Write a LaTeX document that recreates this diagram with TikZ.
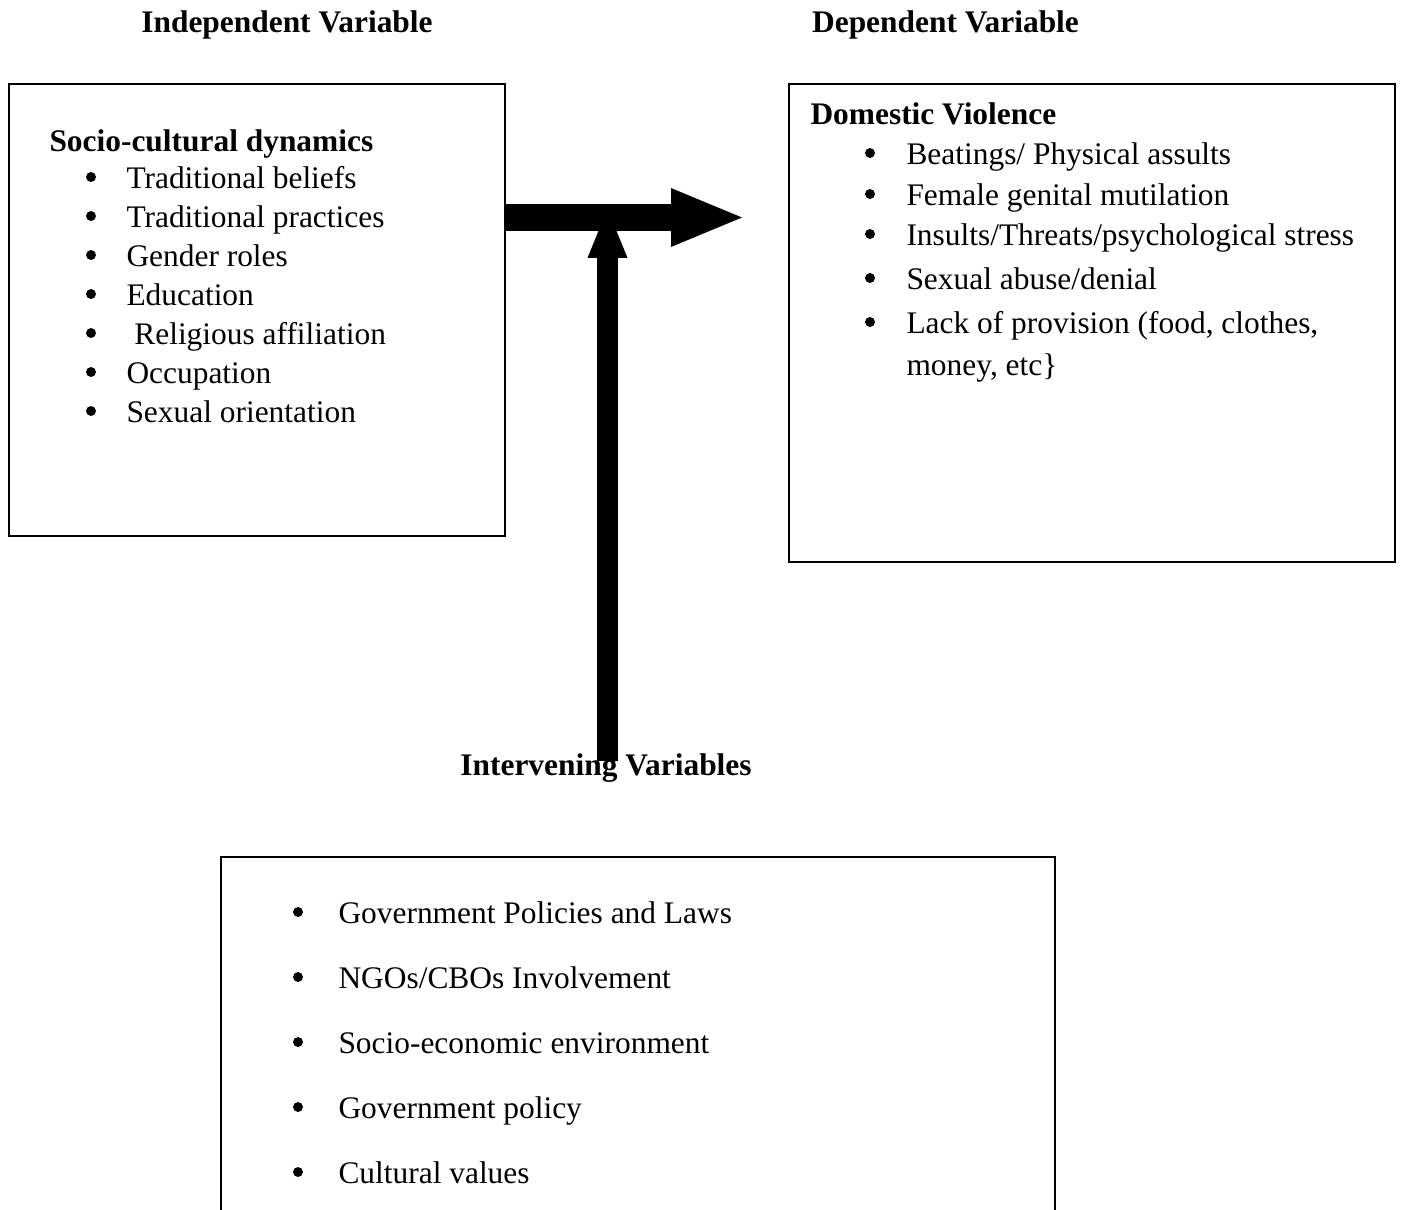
\documentclass[tikz,border=0pt]{standalone}
\usepackage{fontspec}
\setmainfont{Liberation Serif}
\usepackage{tikz}
\usetikzlibrary{arrows.meta, positioning, fit}

\begin{document}
\begin{tikzpicture}[
        x=0.382pt, y=-0.382pt,
        panel/.style={draw, line width=0.6pt, inner sep=0pt},
        heading/.style={font=\fontsize{12}{14}\selectfont\bfseries, inner sep=0pt},
        entry/.style={font=\fontsize{12}{14}\selectfont, inner sep=0pt, anchor=base west},
        bulletmark/.style={circle, fill=black, inner sep=0pt, minimum size=3.8pt},
        fatarrow/.style={line width=10.3pt, -{Triangle[length=27.1pt, width=22.5pt, line width=0pt]}},
        slimarrow/.style={line width=8pt, -{Triangle[length=18.7pt, width=15.3pt, line width=0pt]}},
    ]
        \useasboundingbox (0,0) rectangle (1401,1209);
        \clip (0,0) rectangle (1401,1209);

        % column headings
        \node[heading, anchor=base] (ivhead) at (287,32) {Independent Variable};
        \node[heading, anchor=base] (dvhead) at (945.5,32) {Dependent Variable};

        % independent variable
        \node[panel, fit={(9,84) (505,536)}] (socio) {};
        \node[heading, anchor=base west] (sociotitle) at (49,151) {Socio-cultural dynamics};
        \foreach \t [count=\i] in {Traditional beliefs, Traditional practices, Gender roles,
            Education, {\ Religious affiliation}, Occupation, Sexual orientation} {
            \node[bulletmark] (socio-b\i) at (91, 177+39*\i-39) {};
            \node[entry] (socio-\i) at (126, 188+39*\i-39) {\t};
        }

        % dependent variable
        \node[panel, fit={(789,84) (1395,562)}] (dv) {};
        \node[heading, anchor=base west] (dvtitle) at (810,124) {Domestic Violence};
        \foreach \y/\t [count=\i] in {164/{Beatings/ Physical assults}, 205/{Female genital mutilation},
            245/{Insults/Threats/psychological stress}, 289/{Sexual abuse/denial},
            333/{Lack of provision (food, clothes,}} {
            \node[bulletmark] (dv-b\i) at (870,\y-11) {};
            \node[entry] (dv-\i) at (906,\y) {\t};
        }
        \node[entry] (dv-6) at (906,375) {money, etc\}};

        % intervening variables
        \node[heading, anchor=base] (invhead) at (606,775) {Intervening Variables};
        \node[panel, fit={(221,857) (1055,1300)}] (inv) {};
        \foreach \t [count=\i] in {Government Policies and Laws, NGOs/CBOs Involvement,
            Socio-economic environment, Government policy, Cultural values} {
            \node[bulletmark] (inv-b\i) at (298, 912+65*\i-65) {};
            \node[entry] (inv-\i) at (338, 923+65*\i-65) {\t};
        }

        % arrows
        \coordinate (htip) at (742,217.5);
        \coordinate (vtip) at (607.5,209);
        \coordinate (vtail) at (607.5,761);
        \draw[slimarrow] (vtail) -- (vtip);
        \draw[fatarrow] (socio.east |- htip) -- (htip);
\end{tikzpicture}
\end{document}
